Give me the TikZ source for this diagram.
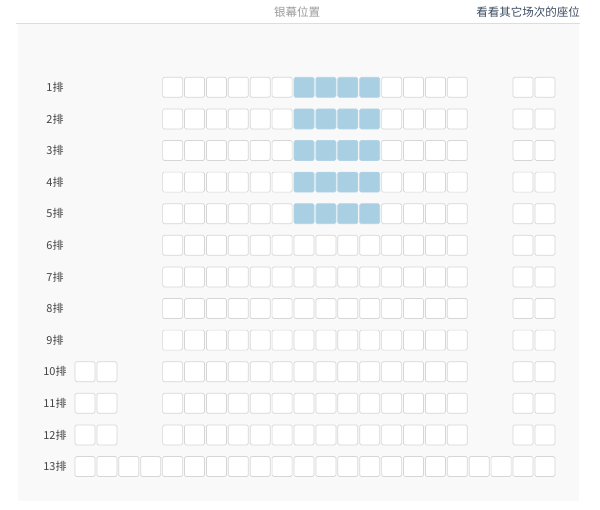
\documentclass[tikz,border=0pt]{standalone}
\usepackage{fontspec}
\newfontfamily\cjk{Noto Sans CJK SC}
\definecolor{seatline}{HTML}{D6D6D6}
\definecolor{seatblue}{HTML}{A9CFE3}
\definecolor{panelbg}{HTML}{F9F9F9}
\definecolor{rulegray}{HTML}{DDDDDD}
\definecolor{screengray}{HTML}{9A9A9A}
\definecolor{linkcol}{HTML}{3E4E63}
\definecolor{labelgray}{HTML}{444444}
\begin{document}
\begin{tikzpicture}[x=1pt,y=-1pt,
  seat/.style={draw=seatline, fill=white, line width=0.7pt, rounded corners=1.5pt,
    minimum width=20pt, minimum height=20pt, inner sep=0pt},
  taken/.style={seat, fill=seatblue, draw=seatblue!90!white},
  rowlabel/.style={font=\cjk\fontsize{11}{11}\selectfont, text=labelgray, inner sep=0pt},
  headtext/.style={font=\cjk\fontsize{11.5}{12}\selectfont, inner sep=0pt}]
\useasboundingbox (0,0) rectangle (600,509);
\fill[white] (0,0) rectangle (600,509);
\fill[panelbg] (18,24) rectangle (579,501);
\draw[rulegray, line width=0.8pt] (16,23.5) -- (580,23.5);
\node[headtext, text=screengray] (screen) at (297,12.5) {银幕位置};
\node[headtext, text=linkcol, anchor=east] (other) at (580,12.5) {看看其它场次的座位};
% row labels
\foreach \r in {1,...,13}{
  \node[rowlabel] (label-\r) at (55,{87.3+31.6*(\r-1)}) {\r{}排};
}
% middle block rows 1-5 with reserved seats
\foreach \r in {1,...,5}{
  \foreach \c in {4,...,9,14,15,16,17}{
    \node[seat] (s-\r-\c) at ({85+21.9*\c},{87.3+31.6*(\r-1)}) {};
  }
  \foreach \c in {10,...,13}{
    \node[taken] (s-\r-\c) at ({85+21.9*\c},{87.3+31.6*(\r-1)}) {};
  }
}
% middle block rows 6-13
\foreach \r in {6,...,13}{
  \foreach \c in {4,...,17}{
    \node[seat] (s-\r-\c) at ({85+21.9*\c},{87.3+31.6*(\r-1)}) {};
  }
}
% right pair, all rows
\foreach \r in {1,...,13}{
  \foreach \c in {20,21}{
    \node[seat] (s-\r-\c) at ({85+21.9*\c},{87.3+31.6*(\r-1)}) {};
  }
}
% left pair, rows 10-13
\foreach \r in {10,...,13}{
  \foreach \c in {0,1}{
    \node[seat] (s-\r-\c) at ({85+21.9*\c},{87.3+31.6*(\r-1)}) {};
  }
}
% row 13 gap fillers
\foreach \c in {2,3,18,19}{
  \node[seat] (s-13-\c) at ({85+21.9*\c},{87.3+31.6*12}) {};
}
\end{tikzpicture}
\end{document}
